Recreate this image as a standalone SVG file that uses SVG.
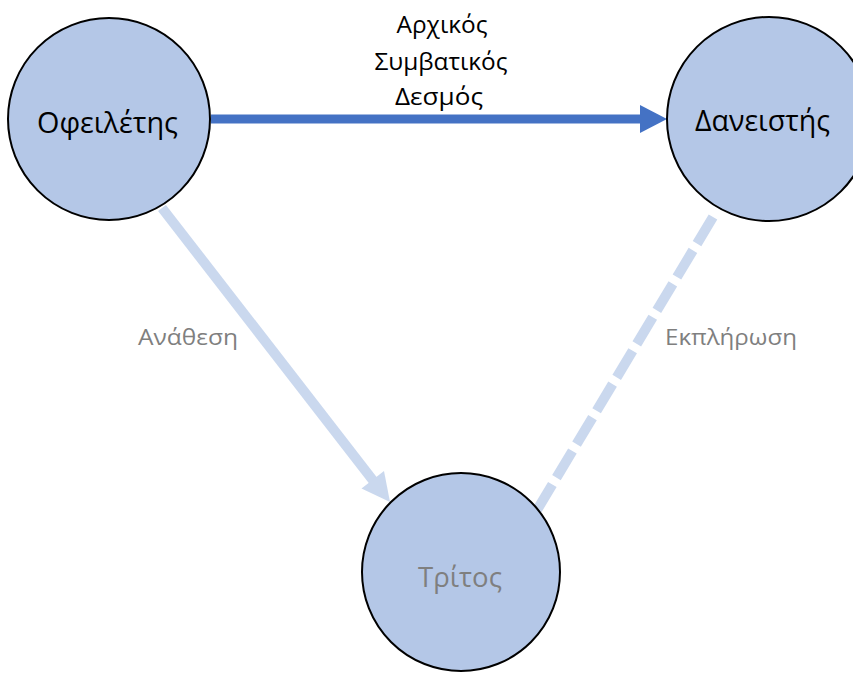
<svg xmlns="http://www.w3.org/2000/svg" width="853" height="675" viewBox="0 0 853 675">
<style>
.node{fill:#B4C7E7;stroke:#000;stroke-width:2}
.lbl{font-family:"Open Sans","Noto Sans","DejaVu Sans",sans-serif;text-anchor:middle}
.dark{fill:#000}
.gray{fill:#7F7F7F}
</style>
<rect width="853" height="675" fill="#fff"/>
<g id="connectors">
  <g id="edge-main">
    <line x1="211" y1="119" x2="642" y2="119" stroke="#4472C4" stroke-width="9"/>
    <polygon points="640,105 667,119 640,133" fill="#4472C4"/>
  </g>
  <g id="edge-anathesi">
    <line x1="162" y1="208" x2="375" y2="483" stroke="#CAD8EE" stroke-width="10"/>
    <polygon points="390,502 361.5,488.5 384,471" fill="#CAD8EE"/>
  </g>
  <g id="edge-ekplirosi">
    <line x1="713" y1="217" x2="537" y2="510" stroke="#CAD8EE" stroke-width="10" stroke-dasharray="31 8"/>
  </g>
  <text class="lbl dark" x="442" y="33" font-size="23" textLength="91" lengthAdjust="spacingAndGlyphs">Αρχικός</text>
  <text class="lbl dark" x="441" y="70" font-size="23" textLength="133" lengthAdjust="spacingAndGlyphs">Συμβατικός</text>
  <text class="lbl dark" x="439" y="105" font-size="23" textLength="88" lengthAdjust="spacingAndGlyphs">Δεσμός</text>
  <text class="lbl gray" x="188" y="345" font-size="22" textLength="100" lengthAdjust="spacingAndGlyphs">Ανάθεση</text>
  <text class="lbl gray" x="731" y="345" font-size="22" textLength="132" lengthAdjust="spacingAndGlyphs">Εκπλήρωση</text>
</g>
<g id="node-ofeiletis">
  <circle class="node" cx="109" cy="119" r="101"/>
  <text class="lbl dark" x="107.5" y="133" font-size="29" textLength="141" lengthAdjust="spacingAndGlyphs">Οφειλέτης</text>
</g>
<g id="node-daneistis">
  <circle class="node" cx="769" cy="119" r="102"/>
  <text class="lbl dark" x="762.5" y="131" font-size="29" textLength="135" lengthAdjust="spacingAndGlyphs">Δανειστής</text>
</g>
<g id="node-tritos">
  <circle class="node" cx="461" cy="572" r="99"/>
  <text class="lbl gray" x="460" y="587" font-size="27" textLength="84" lengthAdjust="spacingAndGlyphs">Τρίτος</text>
</g>
</svg>
